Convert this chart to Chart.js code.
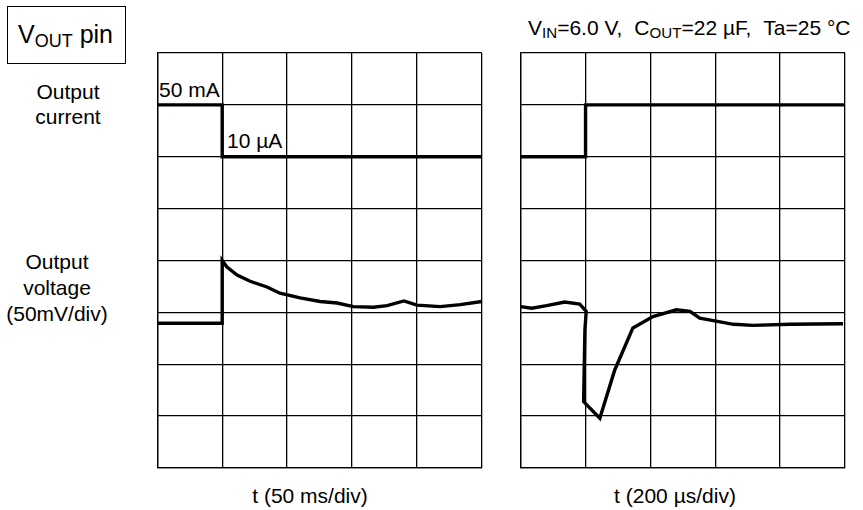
<!DOCTYPE html>
<html>
<head>
<meta charset="utf-8">
<script src="https://cdn.jsdelivr.net/npm/chart.js@4"></script>
<style>
    body { margin: 0; width: 863px; height: 510px; background: #fff; position: relative; overflow: hidden;
           font-family: "Liberation Sans", Arial, sans-serif; color: #000; }
    .txt { position: absolute; font-size: 21px; line-height: 21px; white-space: nowrap; }
    .center { text-align: center; }
    sub { font-size: 0.72em; vertical-align: -0.2em; line-height: 0; }
    canvas { position: absolute; }
    #pinBox { position: absolute; left: 7px; top: 6px; width: 117px; height: 56px; border: 1.3px solid #000; }
    .gap { display: inline-block; width: 12px; }
</style>
</head>
<body>
<div id="pinBox"></div>
<div class="txt" style="left:18px; top:22px; font-size:25px; line-height:25px;">V<sub>OUT</sub> pin</div>

<div class="txt center" style="left:0; width:136px; top:79px; line-height:25px;">Output<br>current</div>
<div class="txt center" style="left:0; width:114px; top:249px; line-height:26px;">Output<br>voltage<br>(50mV/div)</div>

<div class="txt" style="left:159px; top:79px;">50 mA</div>
<div class="txt" style="left:227px; top:130px;">10 &micro;A</div>

<div class="txt" style="left:528px; top:17px;">V<sub>IN</sub>=6.0 V,<span class="gap"></span>C<sub>OUT</sub>=22 &micro;F,<span class="gap"></span>Ta=25 &deg;C</div>

<div class="txt center" style="left:210px; width:200px; top:485px;">t (50 ms/div)</div>
<div class="txt center" style="left:575px; width:200px; top:485px;">t (200 &micro;s/div)</div>

<canvas id="leftChart" width="345" height="435" style="left:147px; top:43px;"></canvas>
<canvas id="rightChart" width="345" height="435" style="left:511px; top:43px;"></canvas>

<script>
// grid: 5 divisions across, 8 divisions down
const xDivs = [0, 1, 2, 3, 4, 5];
const yDivs = [0, 1, 2, 3, 4, 5, 6, 7, 8];

// left panel (50 ms/div)
const leftCurrentX = [0, 1, 1, 5];
const leftCurrentY = [7, 7, 6, 6];
const leftVoltX = [0, 1, 1, 1.07, 1.23, 1.43, 1.69, 1.89, 2.2, 2.51, 2.77, 3.02, 3.33, 3.54, 3.8, 4.0, 4.36, 4.67, 5.0];
const leftVoltY = [2.79, 2.79, 4.0, 3.88, 3.72, 3.6, 3.49, 3.37, 3.28, 3.21, 3.18, 3.11, 3.1, 3.13, 3.22, 3.14, 3.11, 3.15, 3.21];

// right panel (200 us/div)
const rightCurrentX = [0, 1, 1, 5];
const rightCurrentY = [6, 6, 7, 7];
const rightVoltX = [0, 0.17, 0.4, 0.68, 0.91, 1.01, 0.99, 0.97, 1.22, 1.45, 1.73, 2.04, 2.4, 2.61, 2.76, 2.97, 3.28, 3.58, 4.15, 4.97];
const rightVoltY = [3.11, 3.08, 3.13, 3.2, 3.16, 3.02, 2.66, 1.28, 0.96, 1.89, 2.7, 2.92, 3.05, 3.02, 2.89, 2.84, 2.77, 2.75, 2.77, 2.78];

function toPoints(xs, ys) {
    return xs.map((x, i) => ({ x: x, y: ys[i] }));
}

function makePanel(canvasId, padLeft, areaWidth, currentX, currentY, voltX, voltY) {
    const canvas = document.getElementById(canvasId);
    const ctx = canvas.getContext('2d');
    const areaHeight = 415;
    const padTop = 10;

    const traceStyle = {
        borderColor: '#000',
        borderWidth: 3.4,
        pointRadius: 0,
        fill: false,
        tension: 0,
        clip: false
    };

    const axisStyle = (min, max) => ({
        type: 'linear',
        min: min,
        max: max,
        afterBuildTicks: axis => {
            const vals = axis.axis === 'x' ? xDivs : yDivs;
            axis.ticks = vals.map(v => ({ value: v }));
        },
        ticks: { display: false },
        grid: { color: '#000', lineWidth: 1.3, drawTicks: false, tickLength: 0 },
        border: { display: true, color: '#000', width: 1.3 }
    });

    return new Chart(ctx, {
        type: 'line',
        data: {
            datasets: [
                Object.assign({ data: toPoints(currentX, currentY) }, traceStyle),
                Object.assign({ data: toPoints(voltX, voltY) }, traceStyle)
            ]
        },
        options: {
            responsive: false,
            animation: false,
            layout: {
                padding: {
                    left: padLeft,
                    right: canvas.width - padLeft - areaWidth,
                    top: padTop,
                    bottom: canvas.height - padTop - areaHeight
                }
            },
            scales: {
                x: axisStyle(0, 5),
                y: axisStyle(0, 8)
            },
            plugins: {
                legend: { display: false },
                tooltip: { enabled: false }
            }
        }
    });
}

makePanel('leftChart', 10.3, 324.5, leftCurrentX, leftCurrentY, leftVoltX, leftVoltY);
makePanel('rightChart', 9.7, 324.3, rightCurrentX, rightCurrentY, rightVoltX, rightVoltY);
</script>
</body>
</html>
